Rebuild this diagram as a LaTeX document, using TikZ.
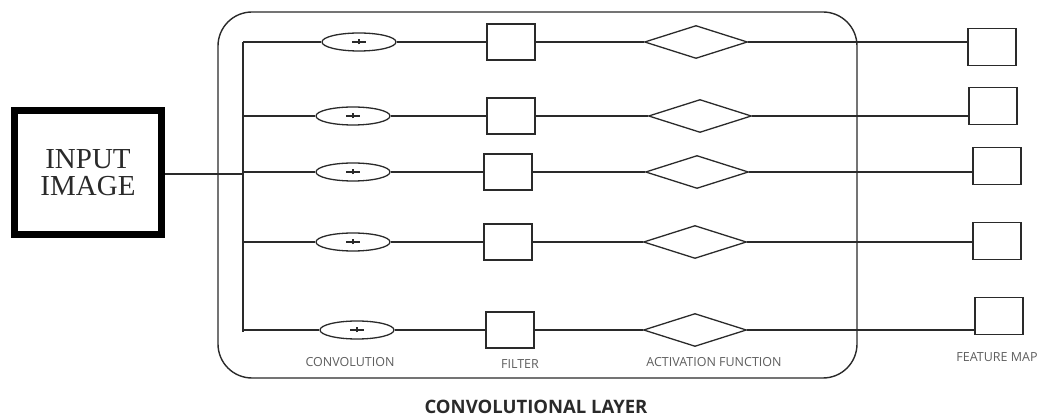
\documentclass[tikz,border=0pt]{standalone}
\usepackage{fontspec}
\setmainfont{Liberation Serif}
\newfontfamily\labelfont{Open Sans}
\usetikzlibrary{shapes.geometric}
\definecolor{ln}{HTML}{2A2A2A}
\definecolor{lbl}{HTML}{5E5E5E}
\tikzset{
  wire/.style={draw=ln, line width=1.5pt},
  conv/.style={ellipse, draw=ln, line width=1.3pt, minimum width=74pt, minimum height=18pt, inner sep=0pt},
  filt/.style={rectangle, draw=ln, line width=1.3pt, minimum width=48pt, minimum height=36pt, inner sep=0pt},
  act/.style={diamond, draw=ln, line width=1.3pt, minimum width=103pt, minimum height=33pt, inner sep=0pt},
  fmap/.style={rectangle, draw=ln, line width=1.3pt, minimum width=48pt, minimum height=37pt, inner sep=0pt},
  small/.style={font=\labelfont\fontsize{12.5}{14}\selectfont, text=lbl},
}
\newcommand{\plussign}[1]{\draw[ln, line width=1.2pt] ([xshift=-7pt]#1.center) -- ([xshift=7pt]#1.center); \draw[ln, line width=1.2pt] ([yshift=-2.5pt]#1.center) -- ([yshift=2.5pt]#1.center);}
\begin{document}
\begin{tikzpicture}[x=1pt,y=-1pt]
\useasboundingbox (0,0) rectangle (1045,419);
% convolutional layer frame
\draw[ln, line width=1.4pt, rounded corners=34pt] (218,12) rectangle (857,378) ;
% input
\node[draw=black, line width=7pt, minimum width=147pt, minimum height=124pt, inner sep=0pt, align=center, font=\fontsize{29}{27}\selectfont, text=ln] (inp) at (88,173) {INPUT\\IMAGE};
% bus
\coordinate (bustop) at (243,42);
\coordinate (busbot) at (243,332);
\coordinate (busmid) at (243,174);
\draw[wire] (bustop) -- (busbot);
\draw[wire] (inp.east |- busmid) -- (busmid);
% rows
\foreach \i/\y/\cx/\fx/\dx/\my/\mx in {1/42/359/511/696/47/992, 2/116/353/511/700/106/993, 3/172/353/508/697/166/997, 4/242/353/508/695/241/997, 5/330/357/510/695/316/999}{
  \node[conv] (c\i) at (\cx,\y) {};
  \plussign{c\i}
  \node[filt] (f\i) at (\fx,\y) {};
  \node[act] (a\i) at (\dx,\y) {};
  \node[fmap] (m\i) at (\mx,\my) {};
  \draw[wire] (bustop |- c\i.west) -- (c\i.west);
  \draw[wire] (c\i.east) -- (f\i.west);
  \draw[wire] (f\i.east) -- (a\i.west);
  \draw[wire] (a\i.east) -- (a\i.east -| m\i.west);
}
% labels
\node[small] (lconv) at (350,362) {CONVOLUTION};
\node[small] (lfilt) at (520,364) {FILTER};
\node[small] (lact) at (714,362) {ACTIVATION FUNCTION};
\node[small] (lfm) at (997,357) {FEATURE MAP};
\node[font=\labelfont\bfseries\fontsize{18.5}{20}\selectfont, text=ln] (title) at (536,407) {CONVOLUTIONAL LAYER};
\end{tikzpicture}
\end{document}
